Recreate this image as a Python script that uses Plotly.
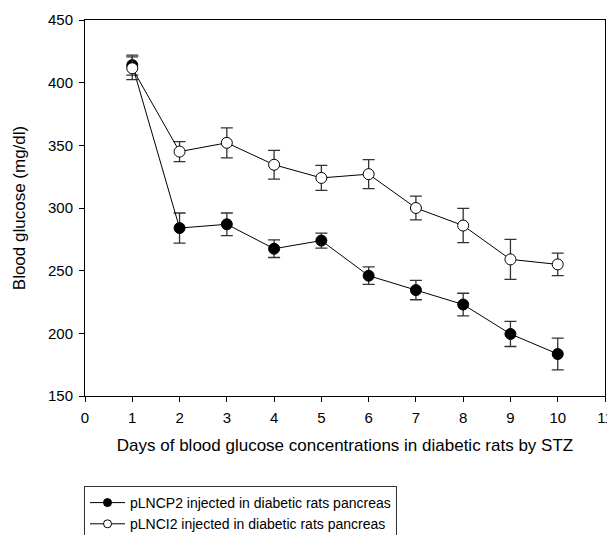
import plotly.graph_objects as go

days = [1, 2, 3, 4, 5, 6, 7, 8, 9, 10]
plncp2 = [414, 284, 287, 267.5, 274, 246, 234.5, 223, 199.5, 183.5]
plncp2_err = [8, 12, 9, 7, 6, 7, 7.7, 9, 10, 12.7]
plnci2 = [411.5, 345, 352, 334.5, 324, 327, 300, 286, 259, 255]
plnci2_err = [9, 8, 12, 11.5, 10, 11.6, 9.5, 13.7, 16, 9]

names = ["pLNCP2 injected in diabetic rats pancreas",
         "pLNCI2 injected in diabetic rats pancreas"]
fills = ["black", "white"]

x_ticks = list(range(0, 12))
y_ticks = [150, 200, 250, 300, 350, 400, 450]

font = "Liberation Sans, Arial, sans-serif"

fig = go.Figure()
for vals, errs, fill, name in [(plncp2, plncp2_err, fills[0], names[0]),
                               (plnci2, plnci2_err, fills[1], names[1])]:
    fig.add_trace(go.Scatter(
        x=days, y=vals, mode="lines+markers", name=name, showlegend=False,
        line=dict(color="black", width=1),
        marker=dict(symbol="circle", size=11, color=fill, line=dict(color="black", width=1)),
        error_y=dict(type="data", array=errs, visible=True, color="#333333", thickness=1.3, width=6),
    ))
# legend entries (smaller symbols, like the reference legend)
for fill, name in zip(fills, names):
    fig.add_trace(go.Scatter(
        x=[None], y=[None], mode="lines+markers", name=name,
        line=dict(color="black", width=1),
        marker=dict(symbol="circle", size=8, color=fill, line=dict(color="black", width=1)),
    ))

axis_common = dict(
    showline=True, linecolor="black", linewidth=1, mirror=True,
    ticks="outside", ticklen=5, tickcolor="black", tickwidth=1,
    showgrid=False, zeroline=False, automargin=False,
    tickfont=dict(family=font, size=15, color="black"),
)

# page body adds an 8px offset; margins compensate
m_l, m_r, m_t, m_b = 77, 18, 12, 147
fig.update_layout(
    width=615, height=535,
    paper_bgcolor="white", plot_bgcolor="white",
    margin=dict(l=m_l, r=m_r, t=m_t, b=m_b),
    font=dict(family=font, color="black"),
    showlegend=True,
    legend=dict(
        xref="paper", yref="container",
        x=-1 / 520, y=1 - 478 / 535, xanchor="left", yanchor="top",
        bordercolor="#333333", borderwidth=1, itemwidth=35,
        font=dict(family=font, size=14, color="black"),
        tracegroupgap=0, itemsizing="trace",
    ),
    xaxis=dict(
        range=[0, 11], tickvals=x_ticks, ticklabelstandoff=3,
        title=dict(text="Days of blood glucose concentrations in diabetic rats by STZ",
                   font=dict(family=font, size=17), standoff=14),
        **axis_common,
    ),
    yaxis=dict(
        range=[150, 450], tickvals=y_ticks, ticklabelstandoff=3,
        title=dict(text="Blood glucose (mg/dl)", font=dict(family=font, size=17), standoff=18),
        **axis_common,
    ),
)

fig.write_html("out.html")
